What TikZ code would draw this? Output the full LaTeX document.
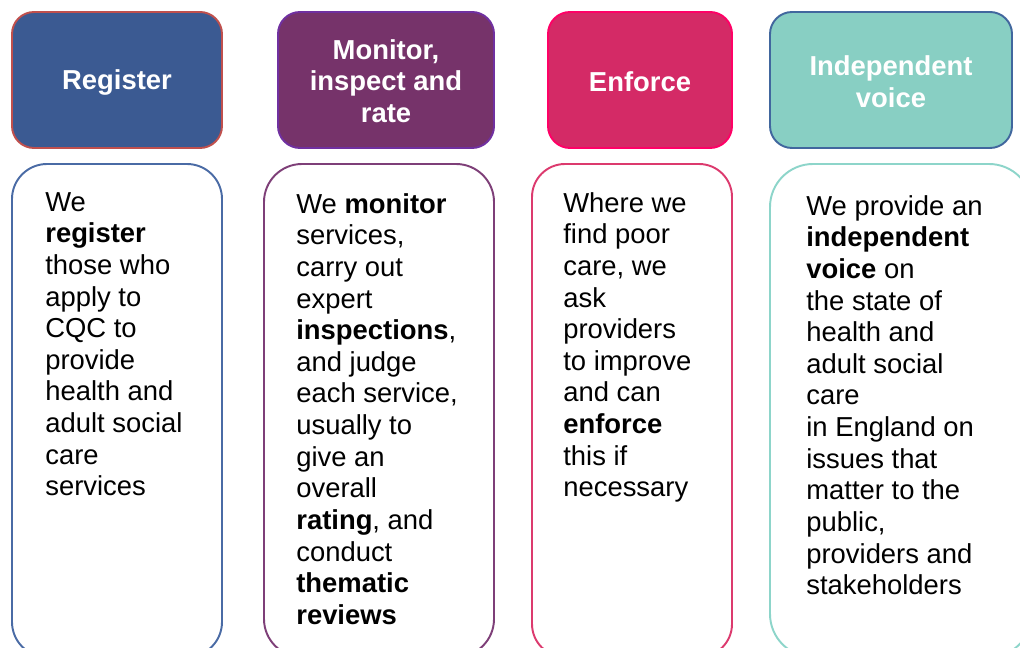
\documentclass[tikz,border=0pt]{standalone}
\usepackage{fontspec}
\setmainfont{Liberation Sans}
\definecolor{regfill}{HTML}{3B5A92}
\definecolor{regline}{HTML}{C0504D}
\definecolor{monfill}{HTML}{76336A}
\definecolor{monline}{HTML}{7030A0}
\definecolor{enffill}{HTML}{D42A66}
\definecolor{enfline}{HTML}{FF0066}
\definecolor{indfill}{HTML}{88CFC3}
\definecolor{indline}{HTML}{41679E}
\definecolor{regbody}{HTML}{4A6BA5}
\definecolor{monbody}{HTML}{7E3F78}
\definecolor{enfbody}{HTML}{DC3A6E}
\definecolor{indbody}{HTML}{8DD5CA}
\begin{document}
\begin{tikzpicture}[x=0.02cm, y=-0.02cm,
	headbox/.style={line width=1.1pt, rounded corners=0.44cm},
	bodybox/.style={line width=1.1pt, fill=white},
	headtxt/.style={text=white, align=center, inner sep=0pt,
		font={\fontsize{15.6}{18}\selectfont\bfseries}},
	bodytxt/.style={anchor=north west, align=left, inner sep=0pt,
		font={\fontsize{15.6}{18}\selectfont}}]
	\useasboundingbox (0,0) rectangle (1020,648);
	\clip (0,0) rectangle (1020,648);
	% header boxes
	\draw[headbox, fill=regfill, draw=regline] (12,12) rectangle (222,148);
	\draw[headbox, fill=monfill, draw=monline] (278,12) rectangle (494,148);
	\draw[headbox, fill=enffill, draw=enfline] (548,12) rectangle (732,148);
	\draw[headbox, fill=indfill, draw=indline] (770,12) rectangle (1012,148);
	\node[headtxt] (reg) at (117,82) {Register};
	\node[headtxt] (mon) at (386,81) {Monitor,\\inspect and\\rate};
	\node[headtxt] (enf) at (640,82) {Enforce};
	\node[headtxt] (ind) at (891,82) {Independent\\voice};
	% body boxes
	\draw[bodybox, draw=regbody, rounded corners=0.7cm] (12,164) rectangle (222,657);
	\draw[bodybox, draw=monbody, rounded corners=0.76cm] (264,164) rectangle (494,657);
	\draw[bodybox, draw=enfbody, rounded corners=0.66cm] (532,164) rectangle (732,657);
	\draw[bodybox, draw=indbody, rounded corners=0.86cm] (770,164) rectangle (1032,657);
	\node[bodytxt] (regtxt) at (45,192) {We\\\textbf{register}\\those who\\apply to\\CQC to\\provide\\health and\\adult social\\care\\services};
	\node[bodytxt] (montxt) at (296,193) {We \textbf{monitor}\\services,\\carry out\\expert\\\textbf{inspections},\\and judge\\each service,\\usually to\\give an\\overall\\\textbf{rating}, and\\conduct\\\textbf{thematic}\\\textbf{reviews}};
	\node[bodytxt] (enftxt) at (563,192) {Where we\\find poor\\care, we\\ask\\providers\\to improve\\and can\\\textbf{enforce}\\this if\\necessary};
	\node[bodytxt] (indtxt) at (806,195) {We provide an\\\textbf{independent}\\\textbf{voice} on\\the state of\\health and\\adult social\\care\\in England on\\issues that\\matter to the\\public,\\providers and\\stakeholders};
\end{tikzpicture}
\end{document}
